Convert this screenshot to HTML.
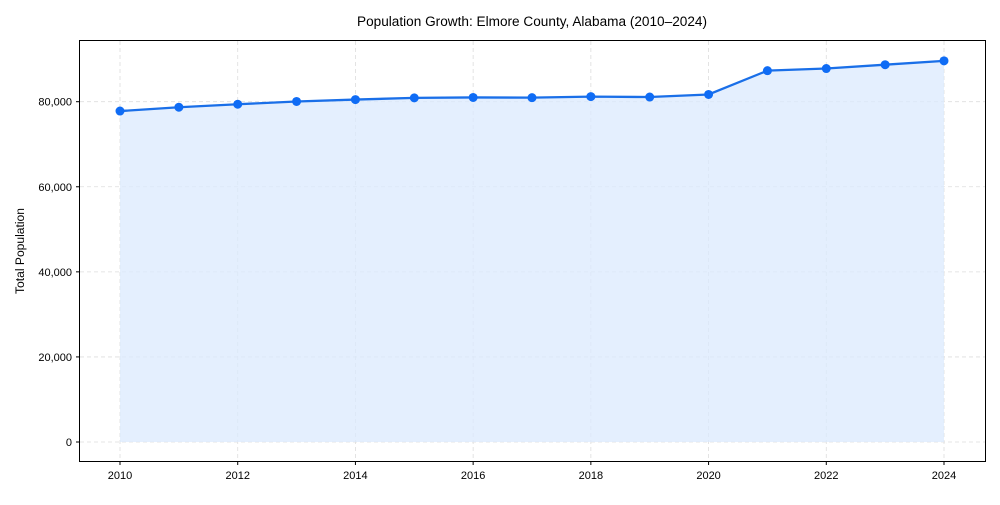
<!DOCTYPE html>
<html><head><meta charset="utf-8"><style>
html,body{margin:0;padding:0;background:#fff;}
svg text{font-family:"Liberation Sans",Arial,sans-serif;fill:#000;}
</style></head><body>
<svg id="chart" width="1000" height="500" xmlns="http://www.w3.org/2000/svg">
<text x="532" y="26" font-size="13.5" text-anchor="middle" textLength="350" lengthAdjust="spacingAndGlyphs">Population Growth: Elmore County, Alabama (2010–2024)</text>
<text transform="translate(24,251) rotate(-90)" font-size="11.5" text-anchor="middle" textLength="86" lengthAdjust="spacingAndGlyphs">Total Population</text>
<g id="grid"></g><g id="marks"></g><g id="axes"></g>
</svg>
<script>
const years=[2010,2011,2012,2013,2014,2015,2016,2017,2018,2019,2020,2021,2022,2023,2024];
const population=[77800,78700,79400,80050,80500,80900,81000,80950,81200,81100,81700,87300,87800,88700,89600];
const xTicks=[2010,2012,2014,2016,2018,2020,2022,2024];
const yTicks=[0,20000,40000,60000,80000];
const yTickLabels=["0","20,000","40,000","60,000","80,000"];
const L=80,R=985,T=41,B=461;
const x=v=>120+(v-2010)*(944-120)/14;
const y=v=>442-v*(442-101.7)/80000;
const NS="http://www.w3.org/2000/svg";
function mk(tag,attrs,parent){const e=document.createElementNS(NS,tag);for(const k in attrs)e.setAttribute(k,attrs[k]);parent.appendChild(e);return e;}
const grid=document.getElementById('grid'),marks=document.getElementById('marks'),axes=document.getElementById('axes');
xTicks.forEach(t=>{const g=mk('line',{x1:x(t),x2:x(t),y1:T,y2:B,stroke:'#ddd','stroke-dasharray':'4,3','stroke-width':0.8},grid);


const tk=mk('line',{x1:x(t),x2:x(t),y1:B,y2:B+4,stroke:'#000'},axes);


const lb=mk('text',{x:x(t),y:B+18,'font-size':11,'text-anchor':'middle'},axes);lb.textContent=t;

});
yTicks.forEach((t,i)=>{const g=mk('line',{x1:L,x2:R,y1:y(t),y2:y(t),stroke:'#ddd','stroke-dasharray':'4,3','stroke-width':0.8},grid);


const tk=mk('line',{x1:L-4,x2:L,y1:y(t),y2:y(t),stroke:'#000'},axes);


const lb=mk('text',{x:L-8,y:y(t)+4,'font-size':11,'text-anchor':'end'},axes);lb.textContent=yTickLabels[i];

});
let pts=years.map((yr,i)=>x(yr)+','+y(population[i]));
const area=mk('polygon',{points:x(years[0])+','+y(0)+' '+pts.join(' ')+' '+x(years[years.length-1])+','+y(0),fill:'#dbe9fe','fill-opacity':0.75},marks);


const line=mk('polyline',{points:pts.join(' '),fill:'none',stroke:'#1a6fe8','stroke-width':2.3},marks);


years.forEach((yr,i)=>{const c=mk('circle',{cx:x(yr),cy:y(population[i]),r:4.5,fill:'#0f6cf5'},marks);

});
const frame=mk('rect',{x:L-0.5,y:T-0.5,width:R-L+1,height:B-T+1,fill:'none',stroke:'#000','stroke-width':1},axes);


</script>
</body></html>
